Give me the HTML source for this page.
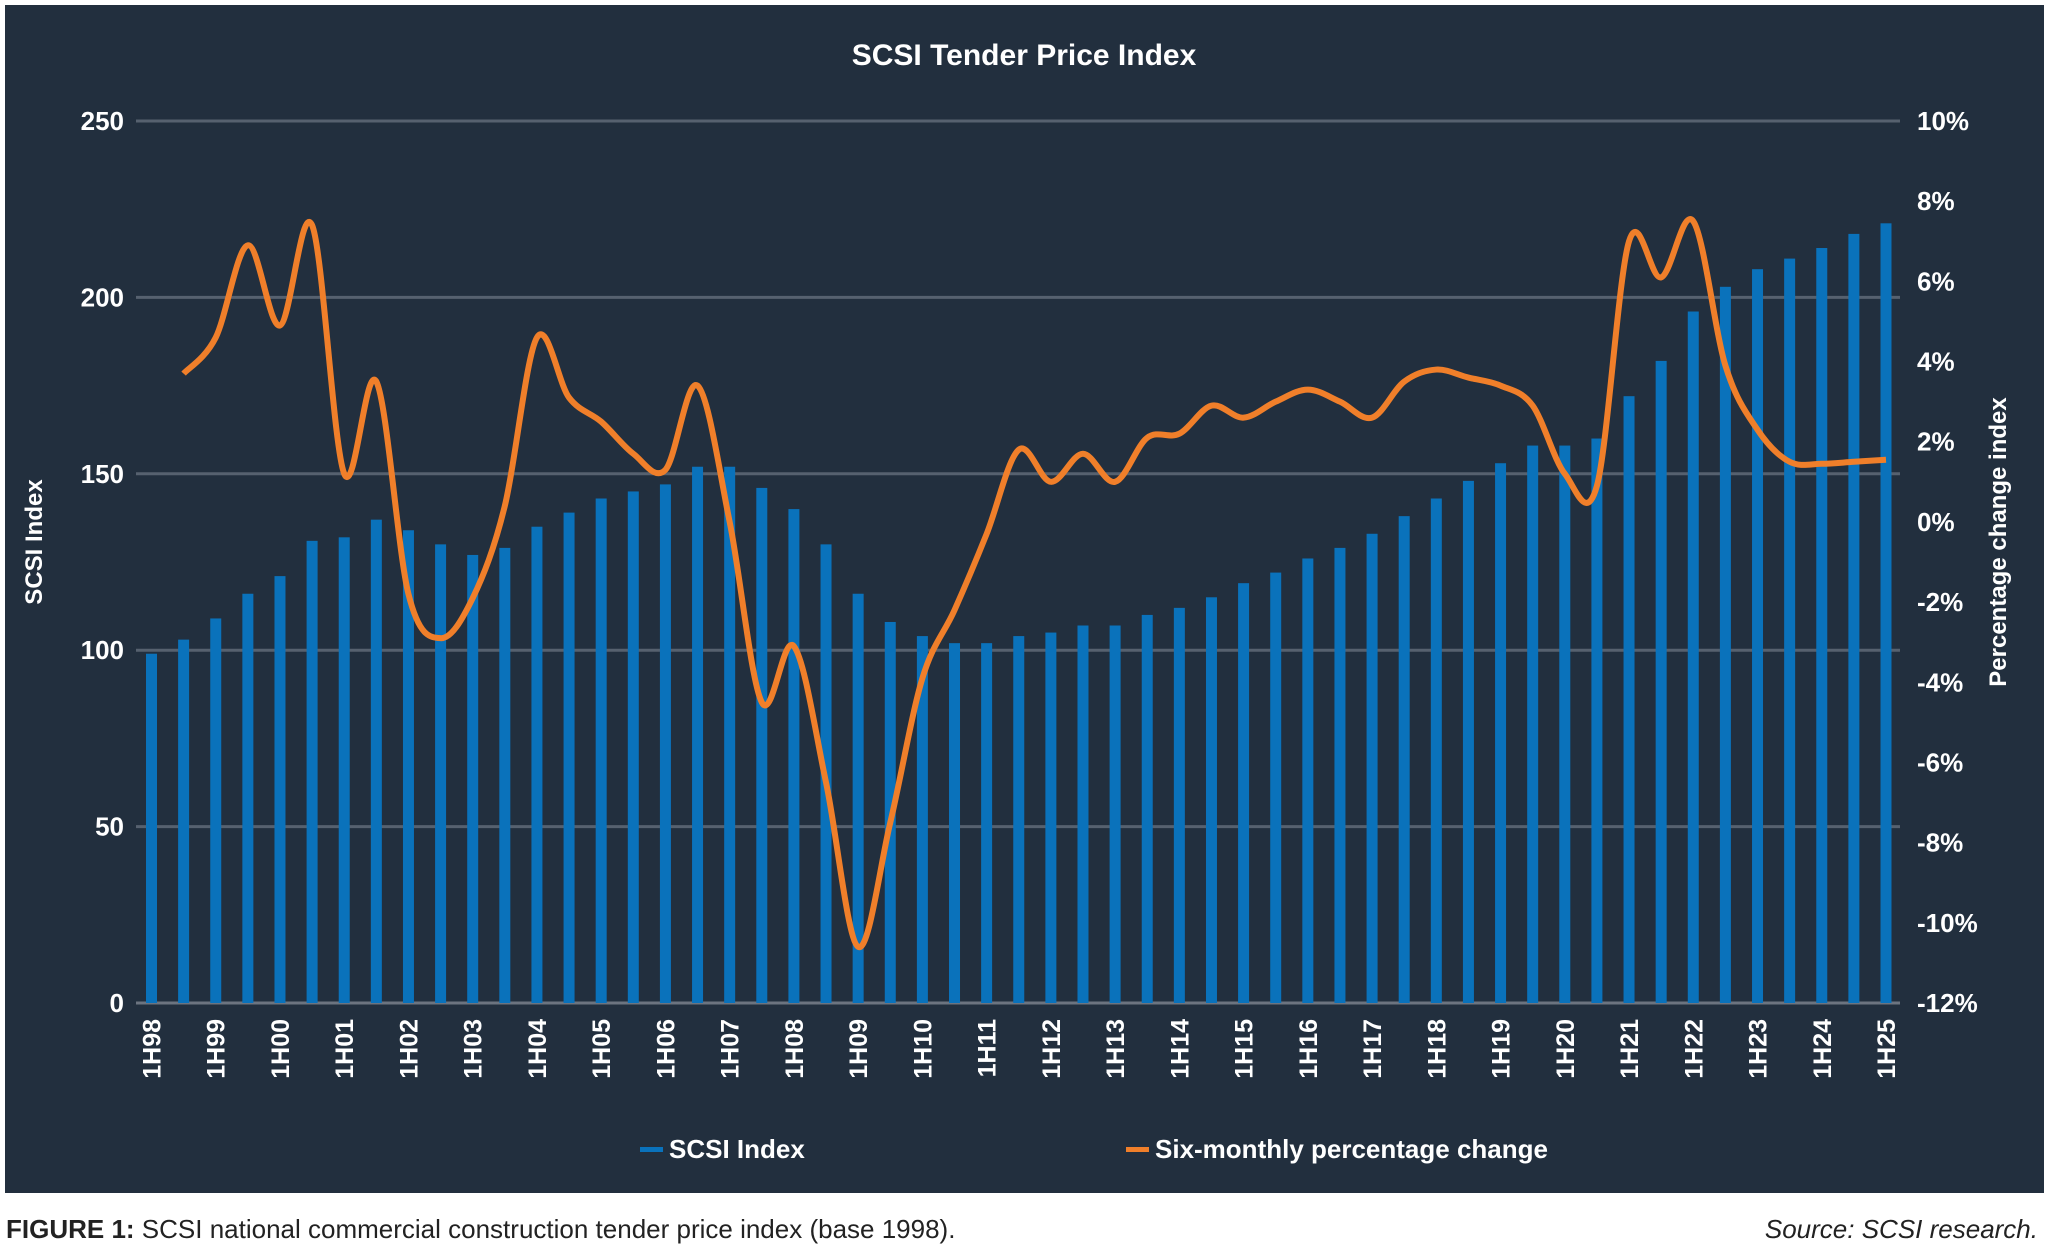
<!DOCTYPE html>
<html><head><meta charset="utf-8">
<style>
html,body{margin:0;padding:0;background:#fff;}
body{width:2048px;height:1248px;overflow:hidden;position:relative;font-family:"Liberation Sans Narrow","Liberation Sans",sans-serif;}
svg text{font-family:"Liberation Sans Narrow","Liberation Sans",sans-serif;}
</style></head>
<body>
<svg id="chart" width="2048" height="1248" viewBox="0 0 2048 1248" xmlns="http://www.w3.org/2000/svg">
<rect x="5" y="5" width="2039" height="1188" fill="#222f3e"/>
<text x="1024" y="65" text-anchor="middle" fill="#fff" font-size="30" font-weight="bold">SCSI Tender Price Index</text>
<g id="grid"></g>
<g id="bars"></g>
<g id="line"></g>
<g id="axes"></g>
<text transform="translate(42,542) rotate(-90)" text-anchor="middle" fill="#fff" font-size="24" font-weight="bold">SCSI Index</text>
<text transform="translate(2006,542) rotate(-90)" text-anchor="middle" fill="#fff" font-size="24" font-weight="bold">Percentage change index</text>
<g>
<rect x="640" y="1147" width="23" height="5" fill="#0a72bb"/>
<text x="669" y="1158" fill="#fff" font-size="26" font-weight="bold">SCSI Index</text>
</g>
<g>
<rect x="1126" y="1147" width="23" height="5" fill="#f07f2a"/>
<text x="1155" y="1158" fill="#fff" font-size="26" font-weight="bold">Six-monthly percentage change</text>
</g>
<text x="6" y="1238" fill="#222" font-size="26"><tspan font-weight="bold">FIGURE 1:</tspan> SCSI national commercial construction tender price index (base 1998).</text>
<text x="2038" y="1238" text-anchor="end" fill="#222" font-size="26" font-style="italic">Source: SCSI research.</text>
</svg>
<script>
const categories = [];
for (let y = 98; y <= 125; y++) { const yy = String(y % 100).padStart(2,'0'); categories.push('1H'+yy); if (y < 125) categories.push('2H'+yy); }
const indexValues = [99,103,109,116,121,131,132,137,134,130,127,129,135,139,143,145,147,152,152,146,140,130,116,108,104,102,102,104,105,107,107,110,112,115,119,122,126,129,133,138,143,148,153,158,158,160,172,182,196,203,208,211,214,218,221];
// percentage change starts at 2H98 (index 1)
const changeValues = [null,3.7,4.6,6.9,4.9,7.4,1.2,3.5,-1.8,-2.9,-1.9,0.4,4.6,3.1,2.5,1.7,1.3,3.4,0,-4.5,-3.1,-6.5,-10.6,-7.5,-3.9,-2.2,-0.3,1.8,1.0,1.7,1.0,2.1,2.2,2.9,2.6,3.0,3.3,3.0,2.6,3.5,3.8,3.6,3.4,2.9,1.2,0.9,7.0,6.1,7.5,3.9,2.3,1.5,1.45,1.5,1.55];
const leftTicks = [0,50,100,150,200,250];
const rightTicks = [10,8,6,4,2,0,-2,-4,-6,-8,-10,-12];

const NS = 'http://www.w3.org/2000/svg';
const X0 = 151.5, X1 = 1886;
const yL = v => 1003 - (v/250)*(1003-121);
const yR = v => 1003 - ((v+12)/22)*(1003-121);
const xS = i => X0 + i*(X1-X0)/(categories.length-1);
function mk(tag, attrs, parent){ const e=document.createElementNS(NS,tag); for(const k in attrs) e.setAttribute(k,attrs[k]); parent.appendChild(e); return e; }

const grid = document.getElementById('grid');
leftTicks.forEach(t=>{
  const l = mk('line',{x1:136,x2:1900,y1:yL(t),y2:yL(t),stroke:t===0?'#6c7480':'#56616f','stroke-width':3},grid);
  
  
});
const axes = document.getElementById('axes');
leftTicks.forEach(t=>{
  const tx = mk('text',{x:124,y:yL(t)+9,'text-anchor':'end',fill:'#fff','font-size':26,'font-weight':'bold'},axes);
  tx.textContent = t;
  
  
});
rightTicks.forEach(t=>{
  const tx = mk('text',{x:1917,y:yR(t)+9,fill:'#fff','font-size':26,'font-weight':'bold'},axes);
  tx.textContent = t+'%';
  
  
});
const bars = document.getElementById('bars');
indexValues.forEach((v,i)=>{
  const b = mk('rect',{x:xS(i)-5.5,y:yL(v),width:11,height:yL(0)-yL(v),fill:'#0a72bb'},bars);
  
  
});
categories.forEach((c,i)=>{
  if (i%2) return;
  const tx = mk('text',{transform:`translate(${xS(i)+9},1019) rotate(-90)`,'text-anchor':'end',fill:'#fff','font-size':25,'font-weight':'bold'},axes);
  tx.textContent = c;
  
  
});
// smooth line (Catmull-Rom)
const pts = [];
changeValues.forEach((v,i)=>{ if(v!==null) pts.push([xS(i),yR(v)]); });
let d = 'M'+pts[0][0]+','+pts[0][1];
for(let i=0;i<pts.length-1;i++){
  const p0=pts[Math.max(0,i-1)],p1=pts[i],p2=pts[i+1],p3=pts[Math.min(pts.length-1,i+2)];
  const c1x=p1[0]+(p2[0]-p0[0])/6,c1y=p1[1]+(p2[1]-p0[1])/6;
  const c2x=p2[0]-(p3[0]-p1[0])/6,c2y=p2[1]-(p3[1]-p1[1])/6;
  d+=` C${c1x},${c1y} ${c2x},${c2y} ${p2[0]},${p2[1]}`;
}
const line = mk('path',{d:d,fill:'none',stroke:'#f07f2a','stroke-width':6,'stroke-linejoin':'round'},document.getElementById('line'));


</script>
</body></html>
